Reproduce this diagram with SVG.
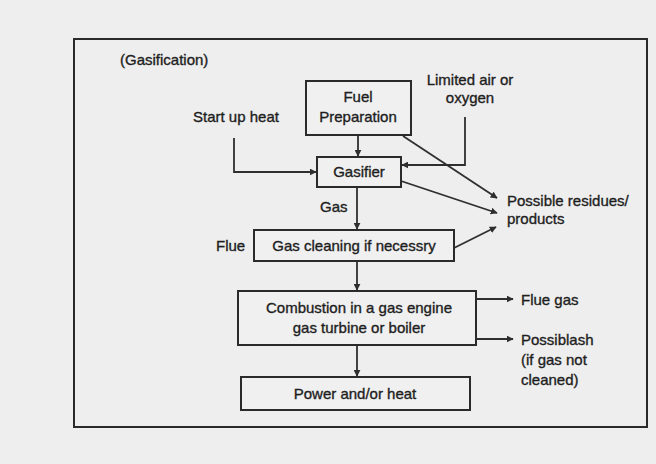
<svg xmlns="http://www.w3.org/2000/svg" width="656" height="464" viewBox="0 0 656 464">
<style>
.bg{fill:#eeeeee}
.frame{fill:none;stroke:#2a2a2a;stroke-width:2}
.box{fill:#f0f0f0;stroke:#2a2a2a;stroke-width:2}
.t{font-family:"Liberation Sans",Arial,sans-serif;font-size:15px;fill:#1e1e1e;stroke:#1e1e1e;stroke-width:0.35}
.c{text-anchor:middle}
.ln{fill:none;stroke:#2e2e2e;stroke-width:1.8}
</style>
<defs>
<marker id="ah" viewBox="0 0 10 10" refX="9" refY="5" markerWidth="7" markerHeight="7" markerUnits="userSpaceOnUse" orient="auto">
<path d="M0,0 L10,5 L0,10 z" fill="#2e2e2e"/>
</marker>
</defs>
<rect class="bg" x="0" y="0" width="656" height="464"/>
<rect class="frame" x="74" y="39" width="573" height="388"/>
<text class="t" x="120" y="65">(Gasification)</text>

<g id="connectors">
<path class="ln" d="M358,135 L358,156" marker-end="url(#ah)"/>
<path class="ln" d="M234,138 L234,172 L316,172" marker-end="url(#ah)"/>
<path class="ln" d="M465,117 L465,165 L402,165" marker-end="url(#ah)"/>
<path class="ln" d="M403,136 L497,198" marker-end="url(#ah)"/>
<path class="ln" d="M401,181 L497,213" marker-end="url(#ah)"/>
<path class="ln" d="M454,248 L496,227" marker-end="url(#ah)"/>
<path class="ln" d="M357,187 L357,229" marker-end="url(#ah)"/>
<path class="ln" d="M357,261 L357,290" marker-end="url(#ah)"/>
<path class="ln" d="M476,299 L513,299" marker-end="url(#ah)"/>
<path class="ln" d="M476,339 L513,339" marker-end="url(#ah)"/>
<path class="ln" d="M357,345 L357,376" marker-end="url(#ah)"/>
</g>

<g id="fuel-preparation">
<rect class="box" x="306" y="81" width="105" height="54"/>
<text class="t c" x="358" y="102">Fuel</text>
<text class="t c" x="358" y="122">Preparation</text>
</g>
<g id="start-up-heat">
<text class="t" x="193" y="122">Start up heat</text>
</g>
<g id="limited-air">
<text class="t c" x="470" y="85">Limited air or</text>
<text class="t c" x="470" y="103">oxygen</text>
</g>
<g id="gasifier">
<rect class="box" x="317" y="157" width="84" height="30"/>
<text class="t c" x="359" y="177">Gasifier</text>
</g>
<g id="residues">
<text class="t" x="507" y="206">Possible residues/</text>
<text class="t" x="507" y="224">products</text>
</g>
<g id="gas-label">
<text class="t" x="320" y="212">Gas</text>
</g>
<g id="gas-cleaning">
<rect class="box" x="254" y="230" width="200" height="31"/>
<text class="t c" x="354" y="251">Gas cleaning if necessry</text>
</g>
<g id="flue-label">
<text class="t" x="216" y="251">Flue</text>
</g>
<g id="combustion">
<rect class="box" x="238" y="291" width="238" height="54"/>
<text class="t c" x="359" y="313">Combustion in a gas engine</text>
<text class="t c" x="359" y="333">gas turbine or boiler</text>
</g>
<g id="flue-gas">
<text class="t" x="521" y="305">Flue gas</text>
</g>
<g id="possible-ash">
<text class="t" x="521" y="345">Possiblash</text>
<text class="t" x="521" y="365">(if gas not</text>
<text class="t" x="521" y="385">cleaned)</text>
</g>
<g id="power-heat">
<rect class="box" x="241" y="377" width="229" height="33"/>
<text class="t c" x="355" y="399">Power and/or heat</text>
</g>
</svg>
